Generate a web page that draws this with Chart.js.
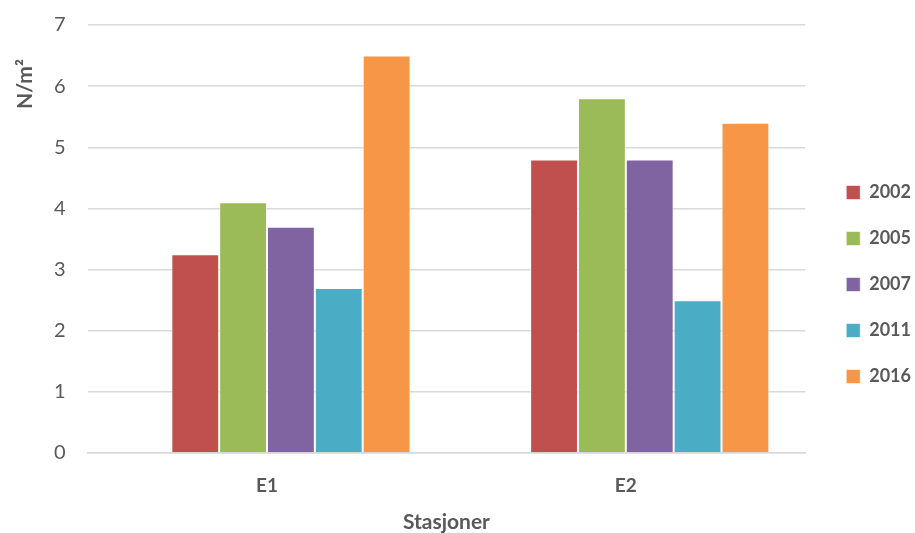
<!DOCTYPE html>
<html>
<head>
<meta charset="utf-8">
<script src="https://cdn.jsdelivr.net/npm/chart.js@4/dist/chart.umd.min.js"></script>
<style>
  html, body { margin: 0; padding: 0; background: #fff; }
  #wrap { width: 915px; height: 533px; }
</style>
</head>
<body>
<div id="wrap"><canvas id="chart" width="915" height="533"></canvas></div>
<script>
// Stations and series
const stations = ["E1", "E2"];
const years = ["2002", "2005", "2007", "2011", "2016"];
const v2002 = [3.25, 4.8];
const v2005 = [4.1, 5.8];
const v2007 = [3.7, 4.8];
const v2011 = [2.7, 2.5];
const v2016 = [6.5, 5.4];
const colors = ["#c0504d", "#9bbb59", "#8064a2", "#4bacc6", "#f79646"];
const yTitle = "N/m²";

const textColor = "#595959";
const font = "Lato, 'Open Sans', sans-serif";

const seriesValues = [v2002, v2005, v2007, v2011, v2016];

// the original has an empty first series that takes a slot in each group
const datasets = [{ label: "", data: [null, null], backgroundColor: "rgba(0,0,0,0)" }];
years.forEach((y, i) => {
  datasets.push({
    label: y,
    data: seriesValues[i],
    backgroundColor: colors[i],
    borderColor: "rgba(255,255,255,0.6)",
    borderWidth: 1,
  });
});

// legend sits further right and lower than Chart.js puts it
const legendShift = {
  id: "legendShift",
  afterLayout(chart) {
    const lg = chart.legend;
    lg.left += 13; lg.right += 13;
    lg.top += 15; lg.bottom += 15;
  },
};

// y title sits near the top of the axis in the original
const yTitlePlugin = {
  id: "yTitle",
  afterDraw(chart) {
    const ctx = chart.ctx;
    ctx.save();
    ctx.translate(25, chart.chartArea.top + 59);
    ctx.rotate(-Math.PI / 2);
    ctx.fillStyle = textColor;
    ctx.font = "bold 21px " + font;
    ctx.textAlign = "center";
    ctx.textBaseline = "middle";
    ctx.fillText(yTitle, 0, 0);
    ctx.restore();
  },
};

new Chart(document.getElementById("chart"), {
  type: "bar",
  data: { labels: stations, datasets },
  options: {
    responsive: false,
    animation: false,
    layout: { padding: { top: 4, right: 7, left: 41, bottom: -2 } },
    datasets: { bar: { categoryPercentage: 0.8, barPercentage: 1.0 } },
    plugins: {
      tooltip: { enabled: false },
      legend: {
        position: "right",
        labels: {
          filter: (item) => item.text !== "",
          boxWidth: 14,
          boxHeight: 14,
          padding: 28,
          color: textColor,
          font: { family: font, size: 18, weight: "bold" },
        },
      },
    },
    scales: {
      x: {
        grid: { display: false, drawTicks: true, tickLength: 21 },
        border: { color: "#d9d9d9", width: 1.5 },
        ticks: {
          color: textColor,
          padding: 0,
          font: { family: font, size: 19, weight: "bold" },
        },
        title: {
          display: true,
          text: "Stasjoner",
          color: textColor,
          font: { family: font, size: 21, weight: "bold" },
          padding: { top: 13, bottom: 0 },
        },
      },
      y: {
        min: 0,
        max: 7,
        ticks: {
          stepSize: 1,
          color: textColor,
          padding: 13,
          font: { family: font, size: 20 },
        },
        grid: {
          color: "#d9d9d9",
          lineWidth: 1.5,
          drawTicks: true,
          tickLength: 9,
          tickColor: "rgba(0,0,0,0)",
        },
        border: { display: false },
      },
    },
  },
  plugins: [legendShift, yTitlePlugin],
});
</script>
</body>
</html>
